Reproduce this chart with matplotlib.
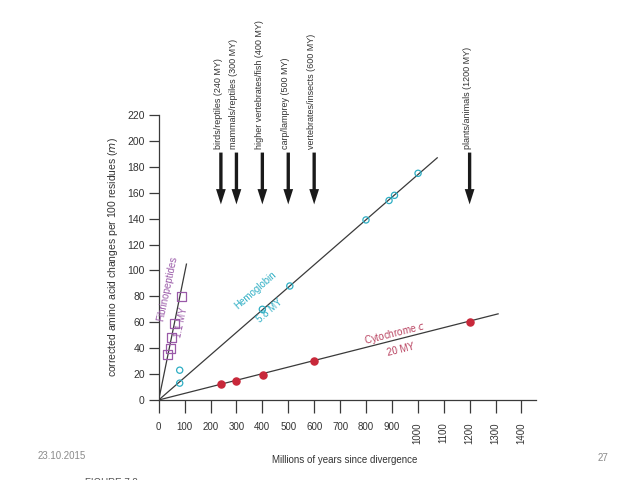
import numpy as np
import matplotlib
matplotlib.use('Agg')
import matplotlib.pyplot as plt

plt.rcParams['font.family'] = ['Liberation Sans', 'DejaVu Sans']

# Data (MY since divergence, changes per 100 residues)
fib_x = [32, 45, 51, 59, 88]
fib_y = [35, 40, 48, 59, 80]
hem_x = [81, 81, 400, 506, 800, 889, 910, 1001]
hem_y = [23, 13, 70, 88, 139, 154, 158, 175]
cyt_x = [242, 300, 403, 600, 1200]
cyt_y = [12, 15, 19, 30, 60]

# Regression lines: unit evolutionary period (MY per 1% change) and end point
fib_period, fib_end = 1.02, 107
hem_period, hem_end = 5.75, 1075
cyt_period, cyt_end = 19.7, 1310

div_times = [240, 300, 400, 500, 600, 1200]
div_labels = ['birds/reptiles (240 MY)', 'mammals/reptiles (300 MY)',
              'higher vertebrates/fish (400 MY)', 'carp/lamprey (500 MY)',
              'vertebrates/insects (600 MY)', 'plants/animals (1200 MY)']

purple = '#9a5aa8'
cyan = '#2eaec4'
red = '#c8283a'
red_text = '#b8405e'
line_c = '#3a3a3a'
txt_c = '#333333'

fig = plt.figure(figsize=(6.4, 4.8), dpi=100)
ax = fig.add_axes([0.248, 0.1667, 0.589, 0.5937])

for period, end in [(fib_period, fib_end), (hem_period, hem_end), (cyt_period, cyt_end)]:
    xs = np.array([0, end])
    ax.plot(xs, xs / period, color=line_c, lw=0.9, zorder=2)

ax.scatter(fib_x, fib_y, marker='s', s=42, facecolors='none', edgecolors=purple, linewidths=0.9, zorder=3)
ax.scatter(hem_x, hem_y, marker='o', s=20, facecolors='none', edgecolors=cyan, linewidths=0.9, zorder=3)
ax.scatter(cyt_x, cyt_y, marker='o', s=26, color=red, zorder=3)

# curve labels
ax.text(31, 86, 'Fibrinopeptides', color=purple, fontsize=7, rotation=78, ha='center', va='center')
ax.text(88, 60, '1.1 MY', color=purple, fontsize=7, rotation=78, ha='center', va='center')
ax.text(372, 85, 'Hemoglobin', color=cyan, fontsize=7, rotation=41, ha='center', va='center')
ax.text(428, 69, '5.8 MY', color=cyan, fontsize=7, rotation=41, ha='center', va='center')
ax.text(910, 51.5, 'Cytochrome $c$', color=red_text, fontsize=7, rotation=14, ha='center', va='center')
ax.text(935, 38.5, '20 MY', color=red_text, fontsize=7, rotation=14, ha='center', va='center')

# divergence arrows
for t, lab in zip(div_times, div_labels):
    ax.annotate('', xy=(t, 151), xytext=(t, 191), annotation_clip=False,
                arrowprops=dict(width=2.4, headwidth=7, headlength=11, shrink=0,
                                color='#1a1a1a', lw=0))
    ax.text(t - 10, 194, lab, rotation=90, ha='center', va='bottom',
            fontsize=6.5, color=txt_c, clip_on=False)

ax.set_xlim(0, 1455)
ax.set_ylim(0, 220)
ax.set_yticks(np.arange(0, 221, 20))
ax.set_xticks(np.arange(0, 1401, 100))
xl = [str(v) for v in range(0, 1401, 100)]
ax.set_xticklabels(xl, fontsize=7, color=txt_c)
for lbl in ax.get_xticklabels()[10:]:
    lbl.set_rotation(90)
ax.tick_params(axis='y', labelsize=7.5, labelcolor=txt_c, length=7, width=0.9, color=line_c, pad=3)
ax.tick_params(axis='x', length=9, width=0.9, color=line_c, pad=7)
for s in ['top', 'right']:
    ax.spines[s].set_visible(False)
for s in ['left', 'bottom']:
    ax.spines[s].set_color(line_c)
    ax.spines[s].set_linewidth(0.9)

ax.set_ylabel('corrected amino acid changes per 100 residues ($m$)', fontsize=7.5, color=txt_c, labelpad=5)

fig.text(0.539, 0.042, 'Millions of years since divergence', fontsize=7, color=txt_c, ha='center', va='center')
fig.text(0.058, 0.05, '23.10.2015', fontsize=7, color='#8a8a8a', ha='left', va='center')
fig.text(0.934, 0.046, '27', fontsize=7, color='#8a8a8a', ha='left', va='center')
fig.text(0.133, -0.006, 'FIGURE 7.8', fontsize=7, color='#555555', ha='left', va='center')

fig.savefig('out.png', dpi=100)
